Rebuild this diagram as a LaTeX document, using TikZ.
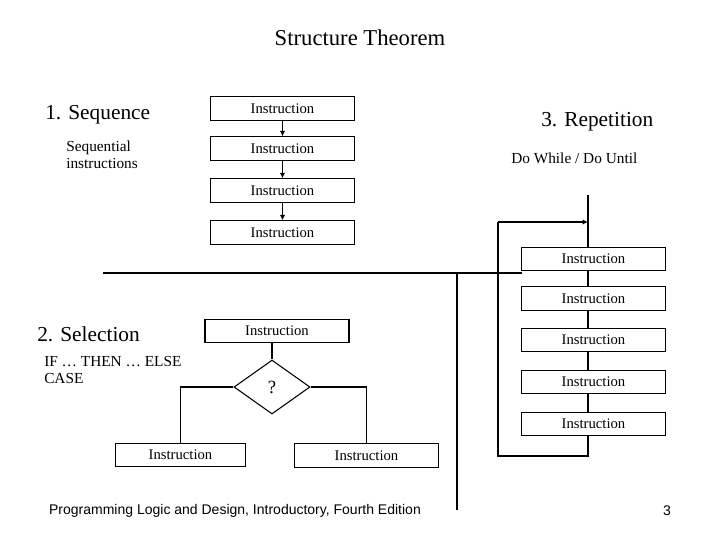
\documentclass[tikz,border=0pt]{standalone}
\usepackage{fontspec}
\setmainfont{Liberation Serif}
\newfontfamily\arialf{Liberation Sans}
\usetikzlibrary{shapes.geometric,arrows.meta}
\begin{document}
\begin{tikzpicture}[x=0.75pt,y=-0.75pt,
  box/.style={draw,line width=0.8pt,minimum width=108pt,minimum height=17.5pt,inner sep=0pt,font=\fontsize{11}{13}\selectfont},
  ln/.style={line width=0.8pt},
  arr/.style={line width=0.8pt,-{Latex[length=4pt,width=4pt]}},
  lab/.style={anchor=west,inner sep=0pt}]
\useasboundingbox (0,0) rectangle (720,540);
\node (title) at (360,38) {\fontsize{17}{20}\selectfont Structure Theorem};
% sequence
\node[lab,font=\fontsize{16}{19}\selectfont] (seq) at (45,115) {1. Sequence};
\node[lab,font=\fontsize{11.5}{13}\selectfont,align=left] (seqt) at (66,155) {Sequential\\instructions};
\node[box] (s1) at (282.5,108.5) {Instruction};
\node[box] (s2) at (282.5,148.5) {Instruction};
\node[box] (s3) at (282.5,190.5) {Instruction};
\node[box] (s4) at (282.5,232.5) {Instruction};
\draw[arr] (s1) -- (s2);
\draw[arr] (s2) -- (s3);
\draw[arr] (s3) -- (s4);
% dividers
\coordinate (hl) at (103,273);
\coordinate (hr) at (522,273);
\coordinate (vt) at (457,273);
\coordinate (vb) at (457,510);
\draw[ln] (hl) -- (hr);
\draw[ln] (vt) -- (vb);
% repetition
\node[lab,font=\fontsize{16}{19}\selectfont] (rep) at (541,122) {3. Repetition};
\node[lab,font=\fontsize{11.5}{13}\selectfont] (rept) at (511,158) {Do While / Do Until};
\node[box] (r1) at (593.5,259) {Instruction};
\node[box] (r2) at (593.5,298.5) {Instruction};
\node[box] (r3) at (593.5,340) {Instruction};
\node[box] (r4) at (593.5,382) {Instruction};
\node[box] (r5) at (593.5,424) {Instruction};
\coordinate (rtop) at (588,195);
\coordinate (rj) at (588,222);
\coordinate (rl1) at (498,222);
\coordinate (rl2) at (498,456);
\coordinate (rb) at (588,456);
\draw[ln] (rtop) -- (r1.north -| rtop);
\draw[ln] (r1.south -| rtop) -- (r2.north -| rtop);
\draw[ln] (r2.south -| rtop) -- (r3.north -| rtop);
\draw[ln] (r3.south -| rtop) -- (r4.north -| rtop);
\draw[ln] (r4.south -| rtop) -- (r5.north -| rtop);
\draw[ln] (r5.south -| rtop) -- (rb) -- (rl2) -- (rl1);
\draw[arr,line width=1.1pt] (rl1) -- (rj);
% selection
\node[lab,font=\fontsize{16}{19}\selectfont] (sel) at (37,334) {2. Selection};
\node[lab,font=\fontsize{11.5}{13}\selectfont,align=left] (selt) at (44,370) {IF \dots\ THEN \dots\ ELSE\\CASE};
\node[box] (c0) at (277,331) {Instruction};
\node[draw,diamond,line width=0.8pt,minimum width=57pt,minimum height=40.5pt,inner sep=0pt,font=\fontsize{14}{16}\selectfont] (d) at (272,387) {?};
\node[box,minimum width=98pt] (cl) at (180.5,455) {Instruction};
\node[box] (cr) at (366.5,455.5) {Instruction};
\draw[ln] (c0.south -| d) -- (d.north);
\draw[ln] (d.west) -| (cl.north);
\draw[ln] (d.east) -| (cr.north);
% footer
\node[font=\arialf\fontsize{10.5}{12}\selectfont] (foot) at (235,511) {Programming Logic and Design, Introductory, Fourth Edition};
\node[font=\arialf\fontsize{10.5}{12}\selectfont] (pg) at (667,511) {3};
\end{tikzpicture}
\end{document}
